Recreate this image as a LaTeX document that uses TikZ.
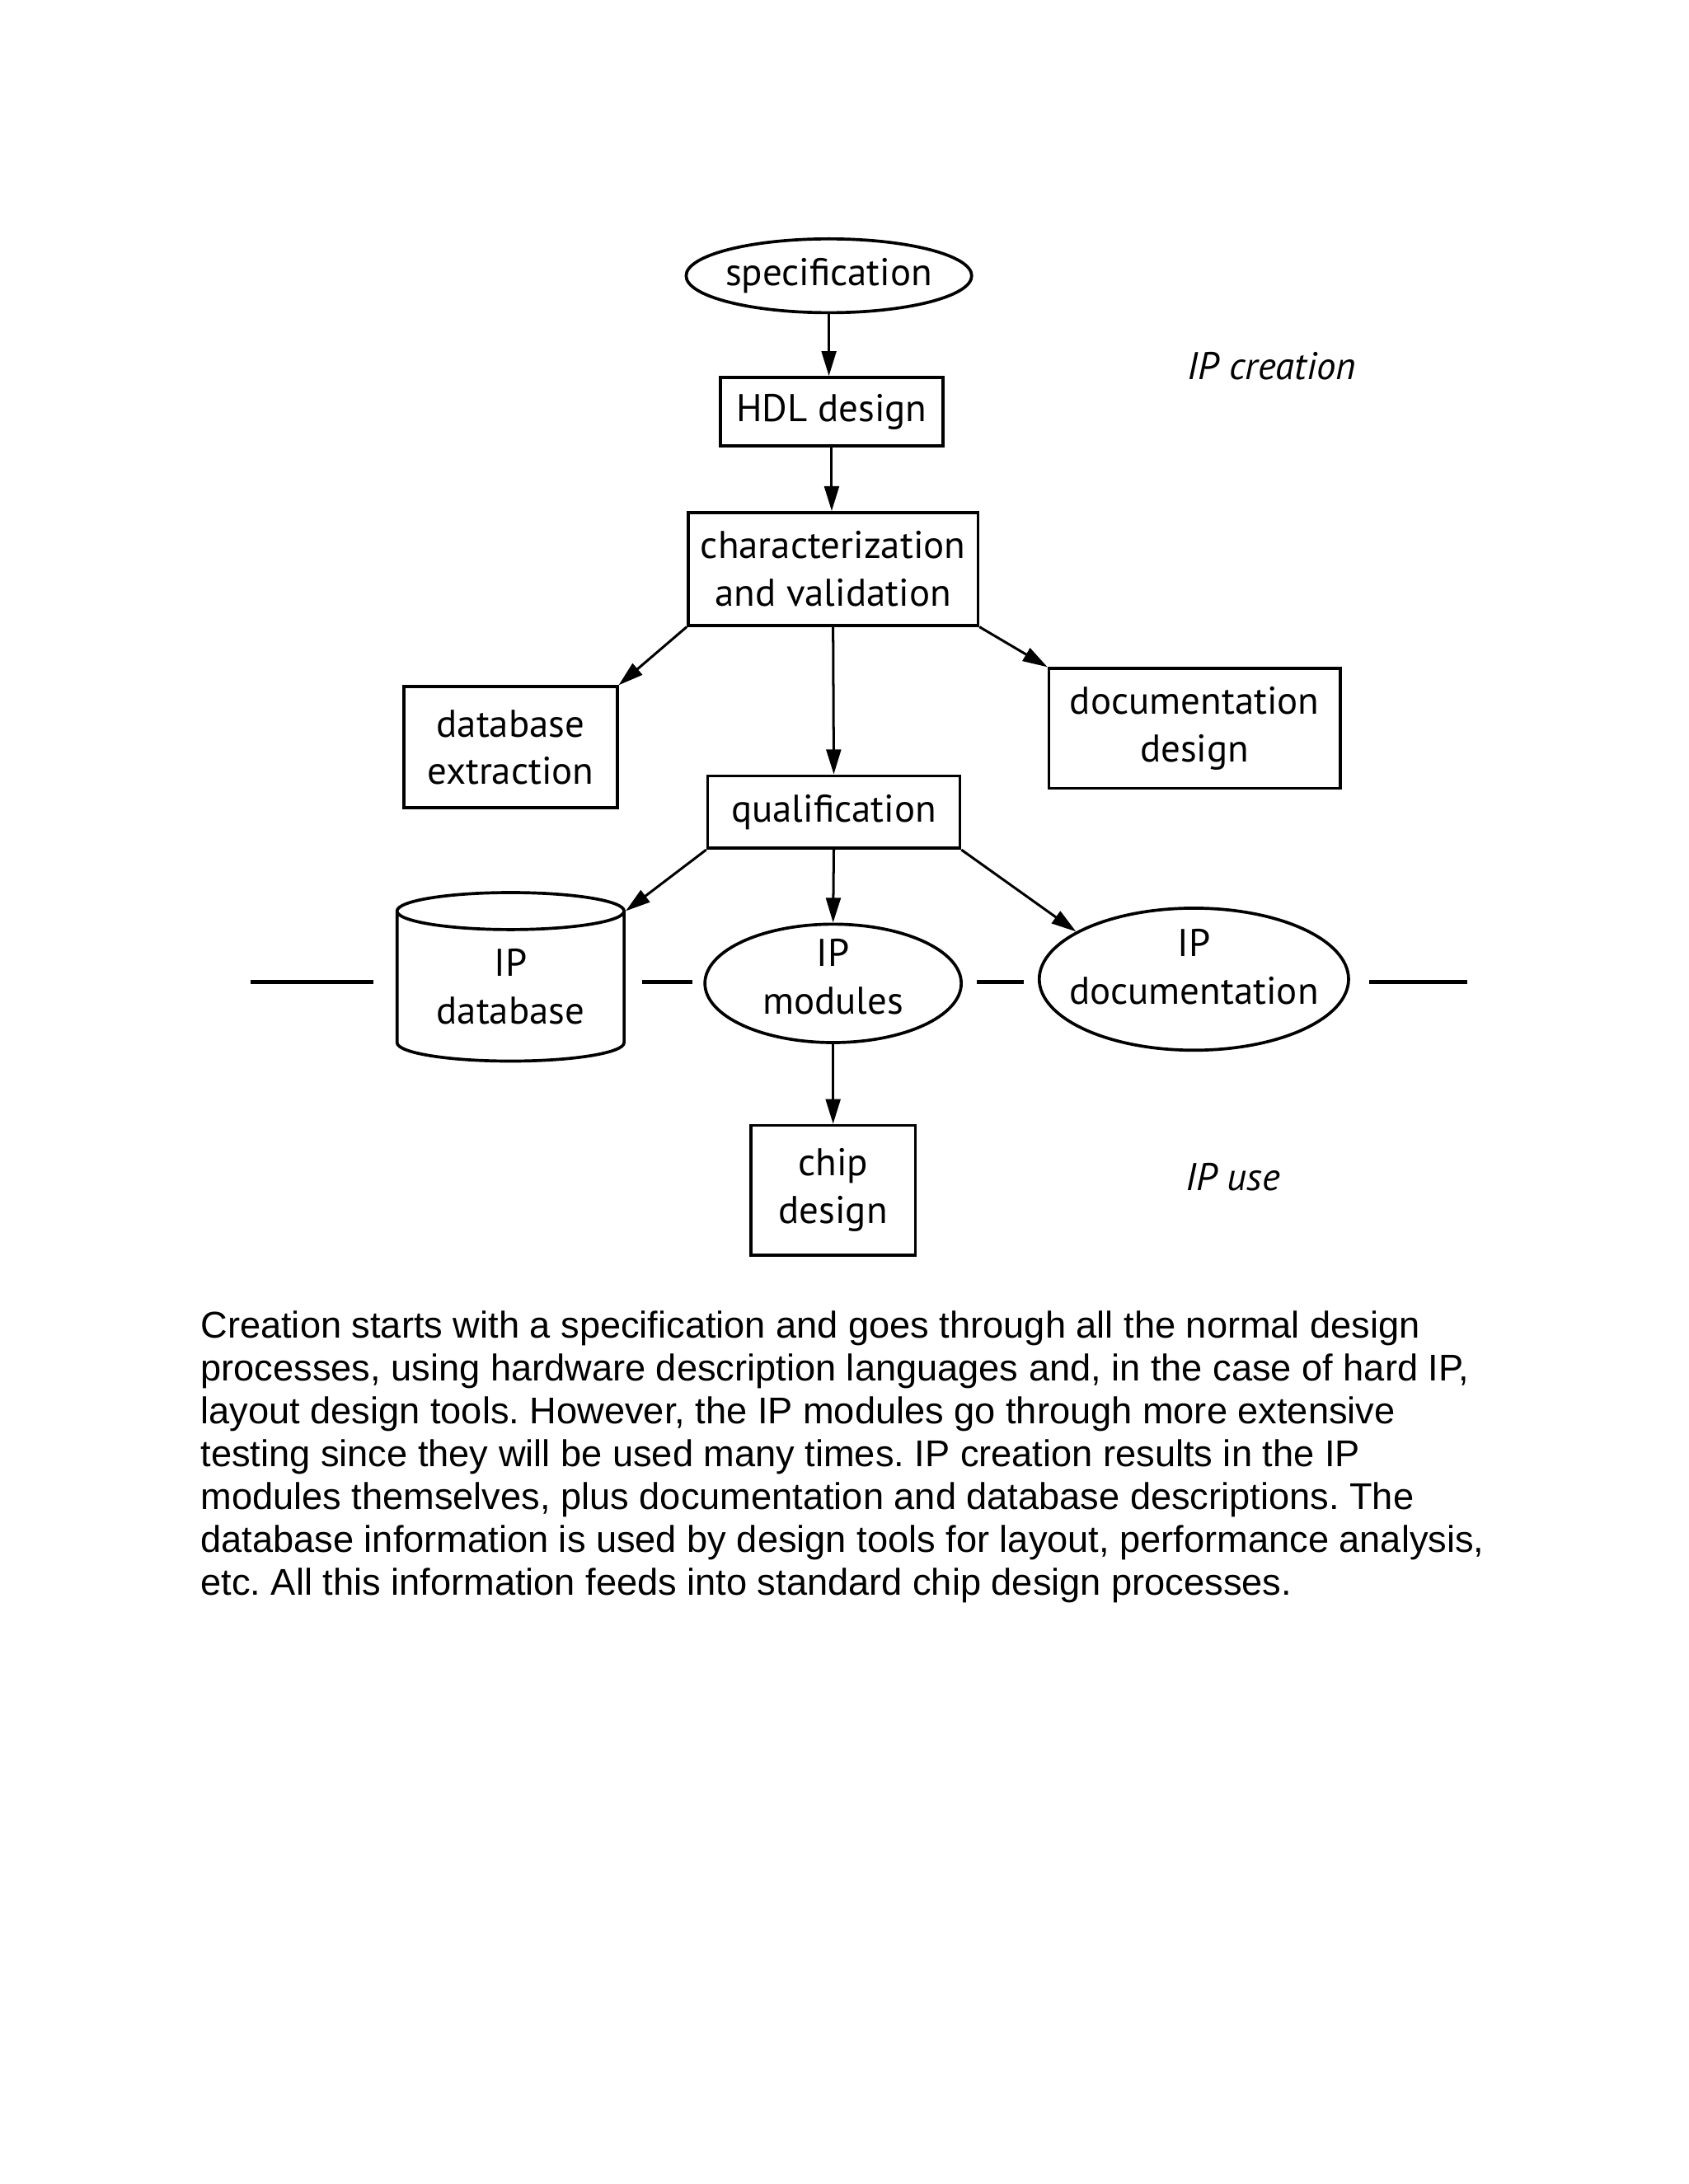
\documentclass[tikz,border=0pt]{standalone}
\usepackage{fontspec}
\setmainfont{Liberation Sans}
\newfontfamily\diagfont{PT Sans}
\usetikzlibrary{arrows.meta,shapes.geometric}
\newdimen\du \du=0.50495pt

\begin{document}
\begin{tikzpicture}[x=\du,y=-\du,
  every node/.style={font=\diagfont\fontsize{14}{17.2}\selectfont, align=center, line width=1.1pt, inner sep=0pt},
  box/.style={draw, rectangle},
  oval/.style={draw, ellipse, inner xsep=-20\du, inner ysep=-10\du},
  tag/.style={font=\diagfont\itshape\fontsize{14}{17}\selectfont},
  flow/.style={line width=0.9pt, -{Triangle[length=9pt,width=5.3pt]}},
  tie/.style={line width=1.3pt}]
\useasboundingbox (0,0) rectangle (1212,1568);

% IP creation
\node[oval, minimum width=205\du, minimum height=53\du] (spec) at (595,198) {specification};
\node[box, minimum width=160\du, minimum height=49\du] (hdl) at (597,295.5) {HDL design};
\node[box, minimum width=208\du, minimum height=81\du] (charval) at (598,408.5) {characterization\\and validation};
\node[box, minimum width=153\du, minimum height=87\du] (dbext) at (366.5,536.5) {database\\extraction};
\node[box, minimum width=209\du, minimum height=86\du] (docdes) at (857.5,523) {documentation\\design};
\node[box, minimum width=181\du, minimum height=52\du] (qual) at (598.5,583) {qualification};
\node[tag] (creation) at (913,263) {IP creation};

% IP use
\node[draw, cylinder, shape border rotate=90, aspect=0.25, minimum width=163\du, minimum height=121\du] (ipdb) at (366.5,708.5) {IP\\database};
\node[oval, minimum width=184\du, minimum height=85\du, text depth=10\du] (ipmod) at (598,706) {IP\\modules};
\node[oval, minimum width=222\du, minimum height=102\du, text depth=18\du] (ipdoc) at (857,703) {IP\\documentation};
\node[box, minimum width=118\du, minimum height=93\du] (chip) at (598,854.5) {chip\\design};
\node[tag] (use) at (885,845) {IP use};

% arrows
\draw[flow] (spec.south) -- (spec.south |- hdl.north);
\draw[flow] (hdl.south) -- (hdl.south |- charval.north);
\draw[flow] (charval.south west) -- (dbext.north east);
\draw[flow] (charval.south east) -- (docdes.north west);
\draw[flow] (charval.south) -- (qual.north);
\draw[flow] (qual.south west) -- (ipdb.after top);
\draw[flow] (qual.south) -- (ipmod.north);
\draw[flow] (qual.south east) -- (ipdoc.158);
\draw[flow] (ipmod.south) -- (chip.north);

% dividing line
\coordinate (lineL) at (180,705);
\coordinate (lineR) at (1053,705);
\draw[tie] (lineL) -- (268,705);
\draw[tie, shorten <=12\du, shorten >=8\du] (ipdb.east |- lineL) -- (ipmod.west |- lineL);
\draw[tie, shorten <=10\du, shorten >=10\du] (ipmod.east |- lineL) -- (ipdoc.west |- lineL);
\draw[tie] (983,705) -- (lineR);

% caption
\node[anchor=north west, align=left, font=\rmfamily\frenchspacing\fontsize{13.5}{15.55}\selectfont] (caption) at (143,940) {Creation starts with a specification and goes through all the normal design\\
processes, using hardware description languages and, in the case of hard IP,\\
layout design tools. However, the IP modules go through more extensive\\
testing since they will be used many times. IP creation results in the IP\\
modules themselves, plus documentation and database descriptions. The\\
database information is used by design tools for layout, performance analysis,\\
etc. All this information feeds into standard chip design processes.};
\end{tikzpicture}
\end{document}
